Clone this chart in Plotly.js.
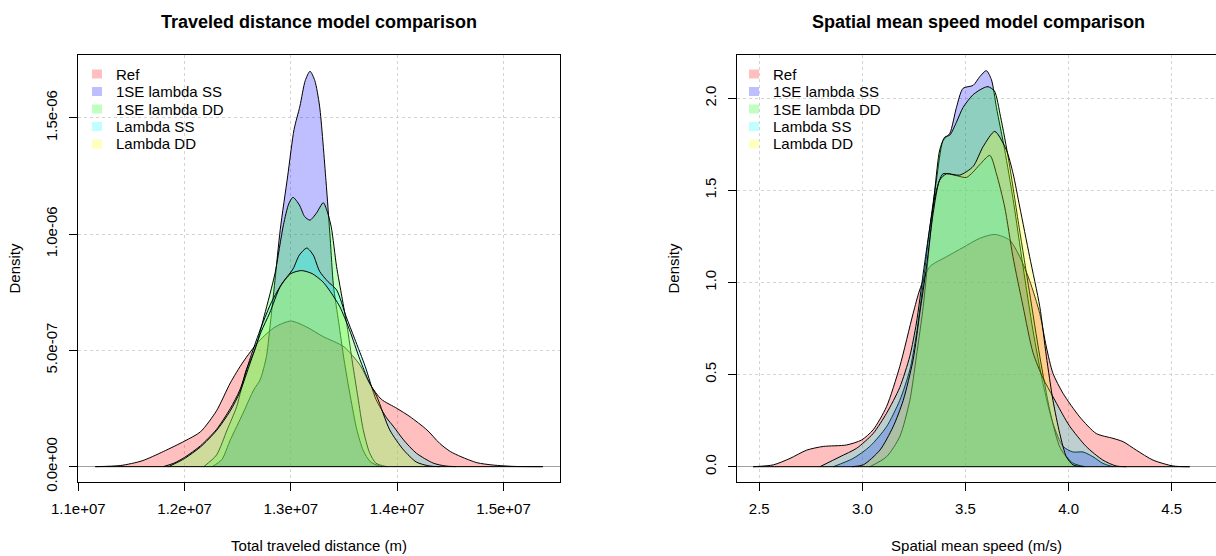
<!DOCTYPE html>
<html>
<head>
<meta charset="utf-8">
<script src="https://cdn.plot.ly/plotly-3.0.1.min.js"></script>
<style>html,body{margin:0;padding:0;overflow:hidden;background:#fff}#chart{width:1216px;height:556px}</style>
</head>
<body>
<div id="chart"></div>
<script>
// ---------- Data: left panel (Total traveled distance, m) ----------
const seriesNames = ["Ref", "1SE lambda SS", "1SE lambda DD", "Lambda SS", "Lambda DD"];

const distRefX = [1.116e7,1.14e7,1.16e7,1.18e7,1.20e7,1.215e7,1.23e7,1.243e7,1.255e7,1.27e7,1.285e7,1.30e7,1.315e7,1.33e7,1.35e7,1.365e7,1.375e7,1.385e7,1.40e7,1.412e7,1.428e7,1.44e7,1.45e7,1.46e7,1.475e7,1.49e7,1.51e7,1.537e7];
const distRefY = [0,0.05e-7,0.25e-7,0.65e-7,1.1e-7,1.5e-7,2.4e-7,3.6e-7,4.5e-7,5.4e-7,6.0e-7,6.26e-7,6.0e-7,5.6e-7,5.15e-7,4.37e-7,3.5e-7,2.9e-7,2.5e-7,2.15e-7,1.58e-7,1.0e-7,0.65e-7,0.43e-7,0.17e-7,0.07e-7,0.01e-7,0];

const dist1SESSX = [1.226e7,1.235e7,1.243e7,1.255e7,1.265e7,1.271e7,1.277e7,1.280e7,1.285e7,1.290e7,1.297e7,1.303e7,1.3085e7,1.3135e7,1.318e7,1.3225e7,1.327e7,1.333e7,1.337e7,1.340e7,1.345e7,1.350e7,1.356e7,1.362e7,1.368e7,1.375e7,1.385e7];
const dist1SESSY = [0,0.3e-7,1.15e-7,2.3e-7,3.3e-7,3.73e-7,4.73e-7,5.88e-7,8.0e-7,10.2e-7,12.5e-7,14.5e-7,15.5e-7,16.6e-7,17.0e-7,16.6e-7,15.5e-7,12.3e-7,9.8e-7,7.8e-7,6.2e-7,4.6e-7,3.0e-7,1.6e-7,0.7e-7,0.2e-7,0];

const dist1SEDDX = [1.218e7,1.230e7,1.240e7,1.249e7,1.258e7,1.266e7,1.275e7,1.285e7,1.293e7,1.298e7,1.302e7,1.308e7,1.313e7,1.318e7,1.324e7,1.3305e7,1.334e7,1.338e7,1.343e7,1.348e7,1.353e7,1.358e7,1.363e7,1.368e7,1.374e7,1.380e7,1.390e7];
const dist1SEDDY = [0,0.5e-7,1.58e-7,2.58e-7,4.16e-7,5.0e-7,6.5e-7,8.3e-7,10.4e-7,11.3e-7,11.58e-7,11.25e-7,10.75e-7,10.6e-7,10.9e-7,11.35e-7,11.0e-7,10.3e-7,8.6e-7,7.3e-7,6.0e-7,4.45e-7,3.0e-7,1.6e-7,0.6e-7,0.15e-7,0];

const distLamSSX = [1.180e7,1.190e7,1.200e7,1.215e7,1.230e7,1.243e7,1.252e7,1.262e7,1.272e7,1.282e7,1.292e7,1.302e7,1.308e7,1.315e7,1.321e7,1.327e7,1.335e7,1.343e7,1.352e7,1.360e7,1.370e7,1.380e7,1.390e7,1.397e7,1.406e7,1.418e7,1.434e7,1.445e7,1.455e7];
const distLamSSY = [0,0.15e-7,0.4e-7,0.9e-7,1.6e-7,2.5e-7,3.3e-7,4.7e-7,6.0e-7,7.1e-7,7.9e-7,8.5e-7,9.1e-7,9.4e-7,9.1e-7,8.4e-7,7.95e-7,7.6e-7,6.45e-7,5.5e-7,4.3e-7,2.9e-7,2.1e-7,1.7e-7,1.15e-7,0.58e-7,0.15e-7,0.03e-7,0];

const distLamDDX = [1.185e7,1.200e7,1.215e7,1.230e7,1.243e7,1.252e7,1.262e7,1.272e7,1.280e7,1.290e7,1.300e7,1.310e7,1.320e7,1.330e7,1.336e7,1.346e7,1.355e7,1.365e7,1.373e7,1.381e7,1.393e7,1.406e7,1.418e7,1.430e7,1.440e7];
const distLamDDY = [0,0.35e-7,0.85e-7,1.55e-7,2.4e-7,3.2e-7,4.5e-7,5.8e-7,6.6e-7,7.74e-7,8.3e-7,8.43e-7,8.3e-7,7.95e-7,7.6e-7,6.88e-7,5.9e-7,4.6e-7,3.7e-7,3.0e-7,1.58e-7,0.72e-7,0.2e-7,0.03e-7,0];

// ---------- Data: right panel (Spatial mean speed, m/s) ----------
const spdRefX = [2.471,2.568,2.649,2.73,2.81,2.923,2.996,3.052,3.117,3.181,3.246,3.278,3.327,3.408,3.488,3.569,3.642,3.714,3.763,3.811,3.86,3.892,3.924,3.973,4.054,4.134,4.215,4.264,4.328,4.409,4.506,4.587];
const spdRefY = [0,0.01,0.045,0.09,0.11,0.118,0.145,0.2,0.326,0.543,0.832,0.96,1.086,1.14,1.19,1.24,1.261,1.23,1.14,1.01,0.832,0.65,0.507,0.398,0.27,0.18,0.154,0.136,0.09,0.036,0.004,0];

const spd1SESSX = [2.859,2.955,3.036,3.117,3.181,3.23,3.262,3.295,3.327,3.359,3.391,3.424,3.456,3.488,3.537,3.569,3.601,3.626,3.65,3.69,3.731,3.779,3.827,3.876,3.924,3.973,4.021,4.07,4.118,4.166,4.215];
const spd1SESSY = [0,0.045,0.11,0.217,0.36,0.525,0.72,1.0,1.3,1.556,1.77,1.81,1.95,2.054,2.07,2.117,2.15,2.1,1.95,1.72,1.45,1.086,0.74,0.45,0.235,0.11,0.08,0.08,0.054,0.018,0];

const spd1SEDDX = [3.036,3.117,3.181,3.23,3.262,3.295,3.327,3.351,3.375,3.40,3.424,3.456,3.488,3.537,3.585,3.609,3.64,3.67,3.71,3.76,3.81,3.86,3.91,3.96,4.02,4.08];
const spd1SEDDY = [0,0.054,0.163,0.36,0.6,0.87,1.23,1.5,1.72,1.79,1.8,1.87,1.95,2.02,2.055,2.063,2.04,1.9,1.66,1.3,0.95,0.6,0.3,0.1,0.02,0];

const spdLamSSX = [2.794,2.891,2.972,3.052,3.117,3.181,3.23,3.262,3.295,3.327,3.359,3.391,3.456,3.504,3.537,3.569,3.618,3.65,3.69,3.73,3.779,3.827,3.876,3.924,3.973,4.005,4.085,4.166,4.23,4.28];
const spdLamSSY = [0,0.054,0.1,0.18,0.29,0.43,0.6,0.78,1.05,1.3,1.5,1.59,1.58,1.57,1.6,1.64,1.69,1.59,1.41,1.14,0.87,0.62,0.48,0.38,0.28,0.22,0.11,0.036,0.004,0];

const spdLamDDX = [2.95,3.004,3.085,3.149,3.198,3.246,3.278,3.311,3.343,3.375,3.408,3.472,3.537,3.585,3.642,3.698,3.731,3.763,3.811,3.86,3.892,3.924,3.957,3.989,4.021,4.07];
const spdLamDDY = [0,0.01,0.09,0.217,0.36,0.58,0.83,1.086,1.375,1.556,1.59,1.583,1.63,1.737,1.82,1.72,1.59,1.41,1.14,0.87,0.6,0.36,0.18,0.054,0.01,0];

// ---------- Tick labels ----------
const distTickVals = [1.1e7,1.2e7,1.3e7,1.4e7,1.5e7];
const distTickText = ["1.1e+07","1.2e+07","1.3e+07","1.4e+07","1.5e+07"];
const distYTickVals = [0,5e-7,1e-6,1.5e-6];
const distYTickText = ["0.0e+00","5.0e-07","1.0e-06","1.5e-06"];
const spdTickVals = [2.5,3.0,3.5,4.0,4.5];
const spdTickText = ["2.5","3.0","3.5","4.0","4.5"];
const spdYTickVals = [0,0.5,1.0,1.5,2.0];
const spdYTickText = ["0.0","0.5","1.0","1.5","2.0"];

// ---------- Styles ----------
const fillColors = ["rgba(255,0,0,0.25)","rgba(0,0,255,0.25)","rgba(0,255,0,0.25)","rgba(0,255,255,0.25)","rgba(255,255,0,0.25)"];
const FONT = "Liberation Sans, Arial, Helvetica, sans-serif";

const distSeries = [[distRefX,distRefY],[dist1SESSX,dist1SESSY],[dist1SEDDX,dist1SEDDY],[distLamSSX,distLamSSY],[distLamDDX,distLamDDY]];
const spdSeries = [[spdRefX,spdRefY],[spd1SESSX,spd1SESSY],[spd1SEDDX,spd1SEDDY],[spdLamSSX,spdLamSSY],[spdLamDDX,spdLamDDY]];

const traces = [];
function addPanel(series, xa, ya) {
  series.forEach((s, i) => {
    traces.push({
      type: "scatter", mode: "lines",
      x: s[0], y: s[1],
      xaxis: xa, yaxis: ya,
      fill: "tozeroy", fillcolor: fillColors[i],
      line: {color: "#000", width: 1, shape: "spline", smoothing: 0.7},
      name: seriesNames[i], showlegend: false, hoverinfo: "skip"
    });
  });
  // polygon bottom edge (density baseline) over the full extent of the densities
  const allX = [].concat(...series.map(s => s[0]));
  traces.push({
    type: "scatter", mode: "lines", x: [Math.min(...allX), Math.max(...allX)], y: [0, 0],
    xaxis: xa, yaxis: ya, line: {color: "#000", width: 1}, showlegend: false, hoverinfo: "skip"
  });
}
addPanel(distSeries, "x", "y");
addPanel(spdSeries, "x2", "y2");

const W = 1216, H = 556;
const yDom = [1 - 482 / H, 1 - 55 / H];

function xAxis(dom, range, vals, text, title, anchor) {
  return {
    domain: dom, range: range, anchor: anchor, autorange: false,
    tickmode: "array", tickvals: vals, ticktext: text,
    ticks: "outside", ticklen: 8, tickcolor: "#000", tickwidth: 1,
    ticklabelstandoff: 5,
    showline: true, linecolor: "#000", linewidth: 1, mirror: true,
    showgrid: true, gridcolor: "#d3d3d3", griddash: "dot", gridwidth: 1,
    zeroline: false, automargin: false,
    tickfont: {family: FONT, size: 15, color: "#000"},
    title: {text: title, font: {family: FONT, size: 15, color: "#000"}, standoff: 24}
  };
}
function yAxis(range, vals, text, mirror, anchor) {
  return {
    domain: yDom, range: range, anchor: anchor, autorange: false,
    tickmode: "array", tickvals: vals, ticktext: text, tickangle: -90,
    ticks: "outside", ticklen: 8, tickcolor: "#000", tickwidth: 1,
    ticklabelstandoff: 6,
    showline: true, linecolor: "#000", linewidth: 1, mirror: mirror,
    showgrid: true, gridcolor: "#d3d3d3", griddash: "dot", gridwidth: 1,
    zeroline: true, zerolinecolor: "#a0a0a0", zerolinewidth: 1,
    automargin: false,
    tickfont: {family: FONT, size: 15, color: "#000"},
    title: {text: "Density", font: {family: FONT, size: 15, color: "#000"}, standoff: 18}
  };
}

// ---------- Legends (R style: filled boxes, no frame) ----------
const shapes = [];
const annotations = [
  {text: "<b>Traveled distance model comparison</b>", xref: "paper", yref: "paper",
   x: 319 / W, y: 1 - 22 / H, xanchor: "center", yanchor: "middle", showarrow: false,
   font: {family: FONT, size: 18, color: "#000"}},
  {text: "<b>Spatial mean speed model comparison</b>", xref: "paper", yref: "paper",
   x: 978.5 / W, y: 1 - 22 / H, xanchor: "center", yanchor: "middle", showarrow: false,
   font: {family: FONT, size: 18, color: "#000"}}
];
function addLegend(boxLeftPx, textLeftPx) {
  const top = 74, step = 17.5;
  seriesNames.forEach((n, i) => {
    const cy = top + i * step;
    shapes.push({type: "rect", xref: "paper", yref: "paper",
      x0: boxLeftPx / W, x1: (boxLeftPx + 10) / W, y0: 1 - (cy + 4.5) / H, y1: 1 - (cy - 4.5) / H,
      fillcolor: fillColors[i], line: {width: 0}, layer: "above"});
    annotations.push({text: n, xref: "paper", yref: "paper", x: textLeftPx / W, y: 1 - cy / H,
      xanchor: "left", yanchor: "middle", showarrow: false, borderpad: 0,
      font: {family: FONT, size: 15, color: "#000"}});
  });
}
addLegend(92, 115);
addLegend(749, 772);

const layout = {
  width: W, height: H,
  margin: {l: 0, r: 0, t: 0, b: 0, pad: 0},
  paper_bgcolor: "#fff", plot_bgcolor: "#fff",
  font: {family: FONT, color: "#000"},
  hovermode: false, showlegend: false,
  xaxis: xAxis([78 / W, 560 / W], [1.0997e7, 1.5532e7], distTickVals, distTickText, "Total traveled distance (m)", "y"),
  yaxis: yAxis([-0.66e-7, 1.770e-6], distYTickVals, distYTickText, true, "x"),
  xaxis2: xAxis([737 / W, 1], [2.392, 4.7146], spdTickVals, spdTickText, "Spatial mean speed (m/s)", "y2"),
  yaxis2: yAxis([-0.083, 2.235], spdYTickVals, spdYTickText, false, "x2"),
  shapes: shapes,
  annotations: annotations
};

Plotly.newPlot("chart", traces, layout, {staticPlot: true, displayModeBar: false});
</script>
</body>
</html>
